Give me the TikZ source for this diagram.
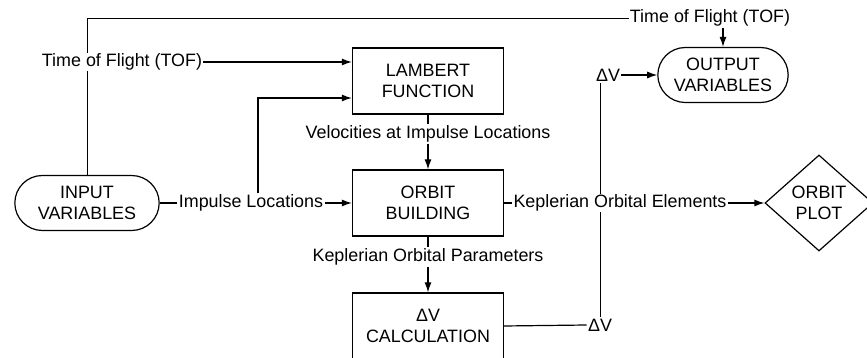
\documentclass[tikz,border=0pt]{standalone}
\usepackage{fontspec}
\setmainfont{Liberation Sans}
\usetikzlibrary{arrows.meta,shapes.geometric,shapes.misc,backgrounds}

\begin{document}
\begin{tikzpicture}[x=1pt,y=1pt,>={Latex[length=10pt,width=7pt]},line width=1.2pt,
  font=\fontsize{17.9}{21}\selectfont,
  box/.style={draw,minimum width=151pt,minimum height=66pt,align=center},
  pill/.style={draw,rounded rectangle,minimum height=55pt,align=center},
  diam/.style={draw,diamond,minimum width=108pt,minimum height=96pt,inner sep=0pt},
  lbl/.style={fill=white,inner sep=0.8pt}]
  \useasboundingbox (0,0) rectangle (867,358);
  % blocks
  \node[pill,minimum width=151pt] (in) at (87,155) {INPUT\\VARIABLES};
  \node[box] (lam) at (428,277) {LAMBERT\\FUNCTION};
  \node[box] (orb) at (428,155) {ORBIT\\BUILDING};
  \node[box] (dvc) at (428,32) {ΔV\\CALCULATION};
  \node[pill,minimum width=137pt] (out) at (723,283) {OUTPUT\\VARIABLES};
  \node[diam] (plot) at (819,155) {};
  \node[align=center] (plottxt) at (plot) {ORBIT\\PLOT};
  % labels on the lines
  \node[lbl] (toftop) at (710,340) {Time of Flight (TOF)};
  \node[lbl] (tofl) at (122,296) {Time of Flight (TOF)};
  \node[lbl] (imp) at (251,155) {Impulse Locations};
  \node[lbl] (vel) at (428,224) {Velocities at Impulse Locations};
  \node[lbl] (kpar) at (428,101) {Keplerian Orbital Parameters};
  \node[lbl] (kel) at (620,155) {Keplerian Orbital Elements};
  \node[lbl] (dvb) at (600,33) {ΔV};
  \node[lbl] (dvt) at (608,283) {ΔV};
  \coordinate (br) at (258,260);
  % connectors
  \begin{scope}[on background layer]
    \draw (in.north) |- (toftop.west);
    \draw (dvb.north) -- (dvb.north |- dvt.south);
  \end{scope}
  \draw[->] (toftop.south -| out.north) -- (out.north);
  \draw[->] (tofl.east) -- (tofl.east -| lam.west);
  \draw[->] (imp.north -| br) -- (br) -- (br -| lam.west);
  \draw (in.east) -- (imp.west);
  \draw[->] (imp.east) -- (orb.west);
  \draw (lam.south) -- (vel.north);
  \draw[->] (vel.south) -- (orb.north);
  \draw (orb.south) -- (kpar.north);
  \draw[->] (kpar.south) -- (dvc.north);
  \draw (orb.east) -- (kel.west);
  \draw[->] (kel.east) -- (plot.west);
  \draw (dvc.east) -- (dvb.west);
  \draw[->] (dvt.east) -- (out.west);
\end{tikzpicture}
\end{document}
